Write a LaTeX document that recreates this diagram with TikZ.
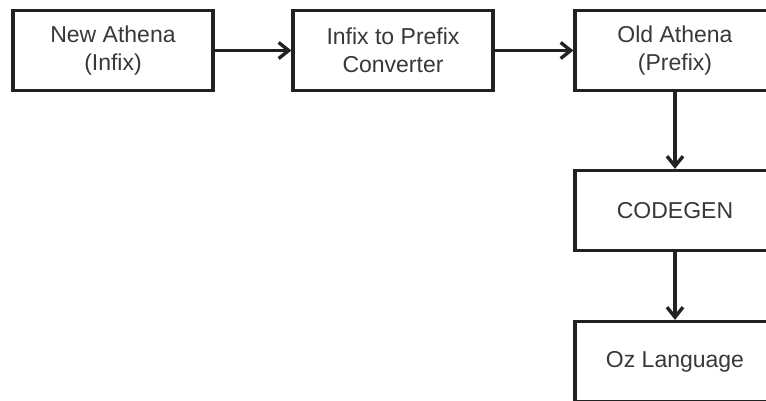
\documentclass[tikz,border=0pt]{standalone}
\usepackage{fontspec}
\setmainfont{Liberation Sans}
\usetikzlibrary{arrows.meta}
\definecolor{edge}{HTML}{222222}
\definecolor{label}{HTML}{383838}
\tikzset{
  stage/.style={draw=edge, line width=3.2pt, fill=white, rectangle,
    minimum width=200pt, minimum height=80pt, inner sep=0pt,
    align=center, text=label,
    font=\fontsize{23}{28}\selectfont},
  flow/.style={draw=edge, line width=3.2pt,
    -{Straight Barb[length=10pt,width=16pt,line width=3.4pt]}}
}
\begin{document}
\begin{tikzpicture}[x=1pt,y=-1pt]
  \clip (0,0) rectangle (766,401);
  \fill[white] (0,0) rectangle (766,401);
  \node[stage] (newathena) at (113,50.5) {New Athena\\(Infix)};
  \node[stage] (converter) at (393,50.5) {Infix to Prefix\\Converter};
  \node[stage] (oldathena) at (675,50.5) {Old Athena\\(Prefix)};
  \node[stage] (codegen) at (675,210.5) {CODEGEN};
  \node[stage] (oz) at (675,361.5) {Oz Language};
  \draw[flow] (newathena) -- (converter);
  \draw[flow] (converter) -- (oldathena);
  \draw[flow] (oldathena) -- (codegen);
  \draw[flow] (codegen) -- (oz);
\end{tikzpicture}
\end{document}
